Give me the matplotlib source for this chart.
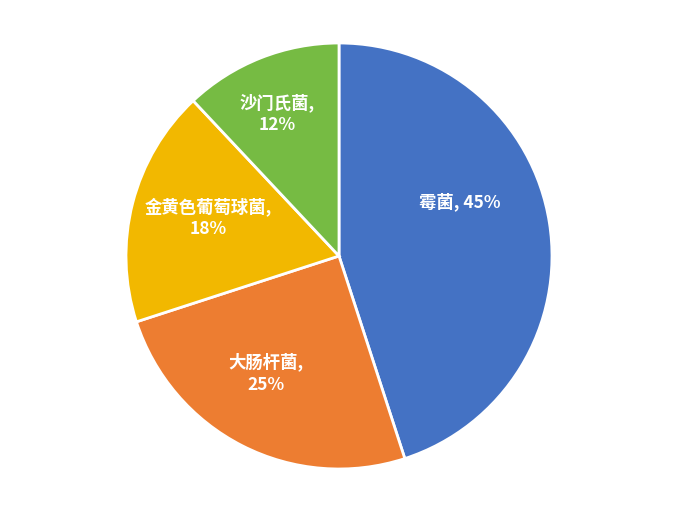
import numpy as np
import matplotlib
matplotlib.use("Agg")
import matplotlib.pyplot as plt

plt.rcParams['font.family'] = ['Noto Sans CJK SC', 'DejaVu Sans']

# data
labels = ['霉菌', '大肠杆菌', '金黄色葡萄球菌', '沙门氏菌']
values = [45, 25, 18, 12]
colors = ['#4472C4', '#ED7D31', '#F2B800', '#76BB43']

# label layout: (distance from centre as fraction of radius, angle shift in degrees, two lines?)
label_radius = [0.62, 0.65, 0.64, 0.73]
label_shift = [15, -5, -2, 2]
two_line = [False, True, True, True]

fig = plt.figure(figsize=(7, 5.09), dpi=100)
cx, cy, r = 339, 253, 213
ax = fig.add_axes([(cx - r) / 700, (cy - r) / 509, 2 * r / 700, 2 * r / 509])

wedges, _ = ax.pie(values, colors=colors, startangle=90, counterclock=False,
                   wedgeprops=dict(edgecolor='white', linewidth=2))
ax.set_xlim(-1, 1)
ax.set_ylim(-1, 1)
ax.set_aspect('equal')
ax.axis('off')

for w, lab, v, d, s, tl in zip(wedges, labels, values, label_radius, label_shift, two_line):
    ang = np.deg2rad((w.theta1 + w.theta2) / 2 + s)
    x, y = d * np.cos(ang), d * np.sin(ang)
    txt = f'{lab},\n{v}%' if tl else f'{lab}, {v}%'
    ax.text(x, y, txt, ha='center', va='center', color='white',
            fontsize=12.5, fontweight='bold', linespacing=1.3)

fig.savefig('out.png', dpi=100)
